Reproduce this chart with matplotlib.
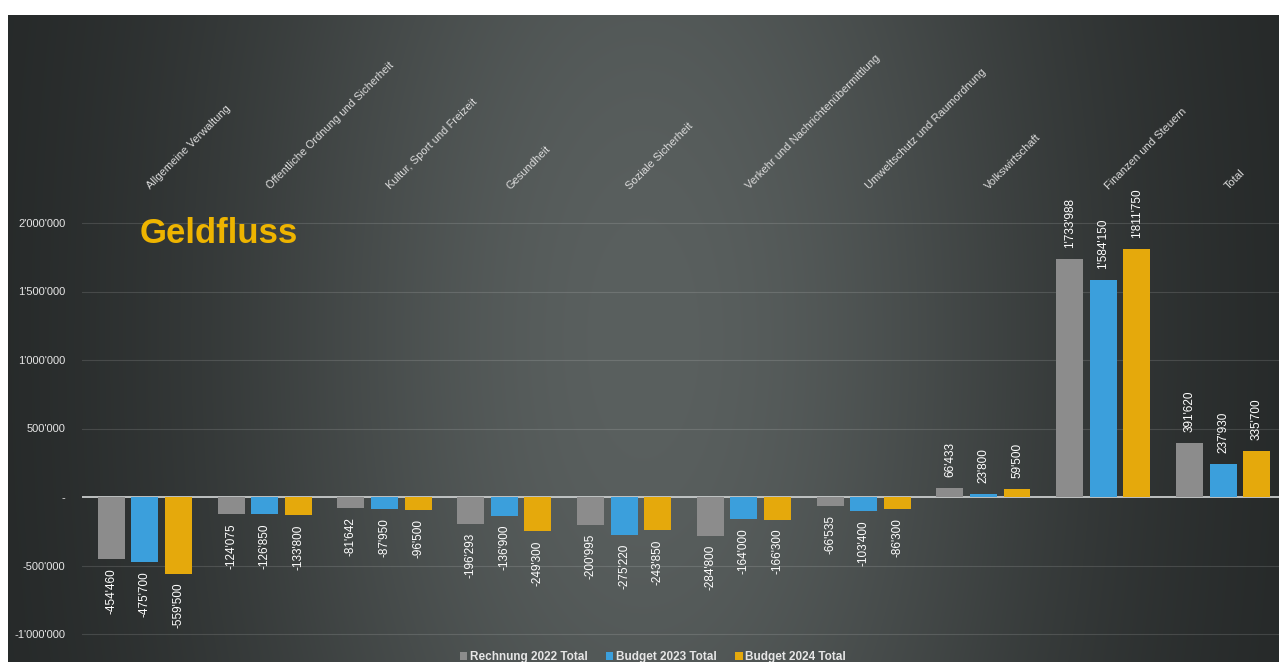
import numpy as np
import matplotlib
matplotlib.use("Agg")
from matplotlib import pyplot as plt
from matplotlib.patches import Patch

plt.rcParams['font.family'] = ['Liberation Sans', 'DejaVu Sans']

# categories and values (CHF)
categories = ["Allgemeine Verwaltung", "Öffentliche Ordnung und Sicherheit",
              "Kultur, Sport und Freizeit", "Gesundheit", "Soziale Sicherheit",
              "Verkehr und Nachrichtenübermittlung", "Umweltschutz und Raumordnung",
              "Volkswirtschaft", "Finanzen und Steuern", "Total"]
rechnung2022 = [-454460, -124075, -81642, -196293, -200995, -284800, -66535, 66433, 1733988, 391620]
budget2023 = [-475700, -126850, -87950, -136900, -275220, -164000, -103400, 23800, 1584150, 237930]
budget2024 = [-559500, -133800, -96500, -249300, -243850, -166300, -86300, 59500, 1811750, 335700]
seriesNames = ["Rechnung 2022 Total", "Budget 2023 Total", "Budget 2024 Total"]
yTicks = [-1000000, -500000, 0, 500000, 1000000, 1500000, 2000000]

colors = ["#8c8c8c", "#3b9fdc", "#e5a90c"]

W, H = 1279, 662
fig = plt.figure(figsize=(W / 100, H / 100), dpi=100)
fig.patch.set_facecolor("white")

def swiss(v):
    #swiss thousands separator
    return "{:,}".format(v).replace(",", "'")

#background: dark board, lighter in the middle
bg = fig.add_axes([8 / W, 0, 1 - 8 / W, (H - 15) / H])
bg.set_axis_off()
xx = np.linspace(-1, 1, 400)
yy = np.linspace(-1, 1, 200)
X, Y = np.meshgrid(xx, yy)
shade = np.exp(-(X * 1.2) ** 2 * 1.5) * (1 - 0.12 * Y ** 2)
lo = np.array([0x21, 0x24, 0x24]) / 255
hi = np.array([0x5a, 0x60, 0x5f]) / 255
img = lo + (hi - lo) * shade[..., None]
bg.imshow(img, aspect="auto", extent=[0, 1, 0, 1], interpolation="bilinear")
bg.set_xlim(0, 1)
bg.set_ylim(0, 1)

# main axes, zero line at y=497px, 137px per million
pxPerUnit = 137 / 1e6
zeroPx = 497
axTop, axBot = 200, 640
ax = fig.add_axes([82 / W, (H - axBot) / H, 1 - 82 / W, (axBot - axTop) / H])
ax.set_facecolor("none")
ax.set_ylim(-(axBot - zeroPx) / pxPerUnit, (zeroPx - axTop) / pxPerUnit)
ax.set_xlim(-0.525, 9.467)

for s in ax.spines.values():
    s.set_visible(False)

ax.set_yticks(yTicks)
ax.set_yticklabels([swiss(t) if t != 0 else "-" for t in yTicks])
ax.tick_params(axis="y", length=0, pad=12, labelsize=8, labelcolor="#e6e6e6")
ax.set_xticks([])
for t in yTicks:
    if t == 0:
        ax.axhline(0, color="#c9cccc", lw=1.3, zorder=1)
    else:
        ax.axhline(t, color="white", alpha=0.13, lw=0.8, zorder=0)

x = np.arange(len(categories))
step = 0.28
barW = 0.225
allSeries = [rechnung2022, budget2023, budget2024]
for k, vals in enumerate(allSeries):
    xs = x + (k - 1) * step
    ax.bar(xs, vals, width=barW, color=colors[k], zorder=2)
    for xi, v in zip(xs, vals):
        if v < 0:
            ax.annotate(swiss(v), (xi, v), xytext=(0, -6.5), textcoords="offset points",
                        rotation=90, ha="center", va="top", fontsize=8.5, color="white")
        else:
            ax.annotate(swiss(v), (xi, v), xytext=(0, 8), textcoords="offset points",
                        rotation=90, ha="center", va="bottom", fontsize=8.5, color="white")

# category labels along the top
labelY = (zeroPx - 191) / pxPerUnit
for xi, name in zip(x, categories):
    ax.text(xi + 0.06, labelY, name, rotation=45, rotation_mode="anchor",
            ha="left", va="bottom", fontsize=8, color="#dcdcdc", clip_on=False)

ax.text(-0.04, (zeroPx - 234) / pxPerUnit, "Geldfluss", fontsize=25, fontweight="bold",
        color="#eeb400", ha="left", va="center")

handles = [Patch(facecolor=c, edgecolor="none") for c in colors]
fig.legend(handles, seriesNames, loc="center", bbox_to_anchor=(653 / W, 1 - 657 / H),
           ncol=3, frameon=False, handlelength=0.6, handleheight=0.6,
           handletextpad=0.2, columnspacing=1.6, labelcolor="#e6e6e6",
           prop={"weight": "bold", "size": 8.5})

fig.savefig("out.png", dpi=100)
